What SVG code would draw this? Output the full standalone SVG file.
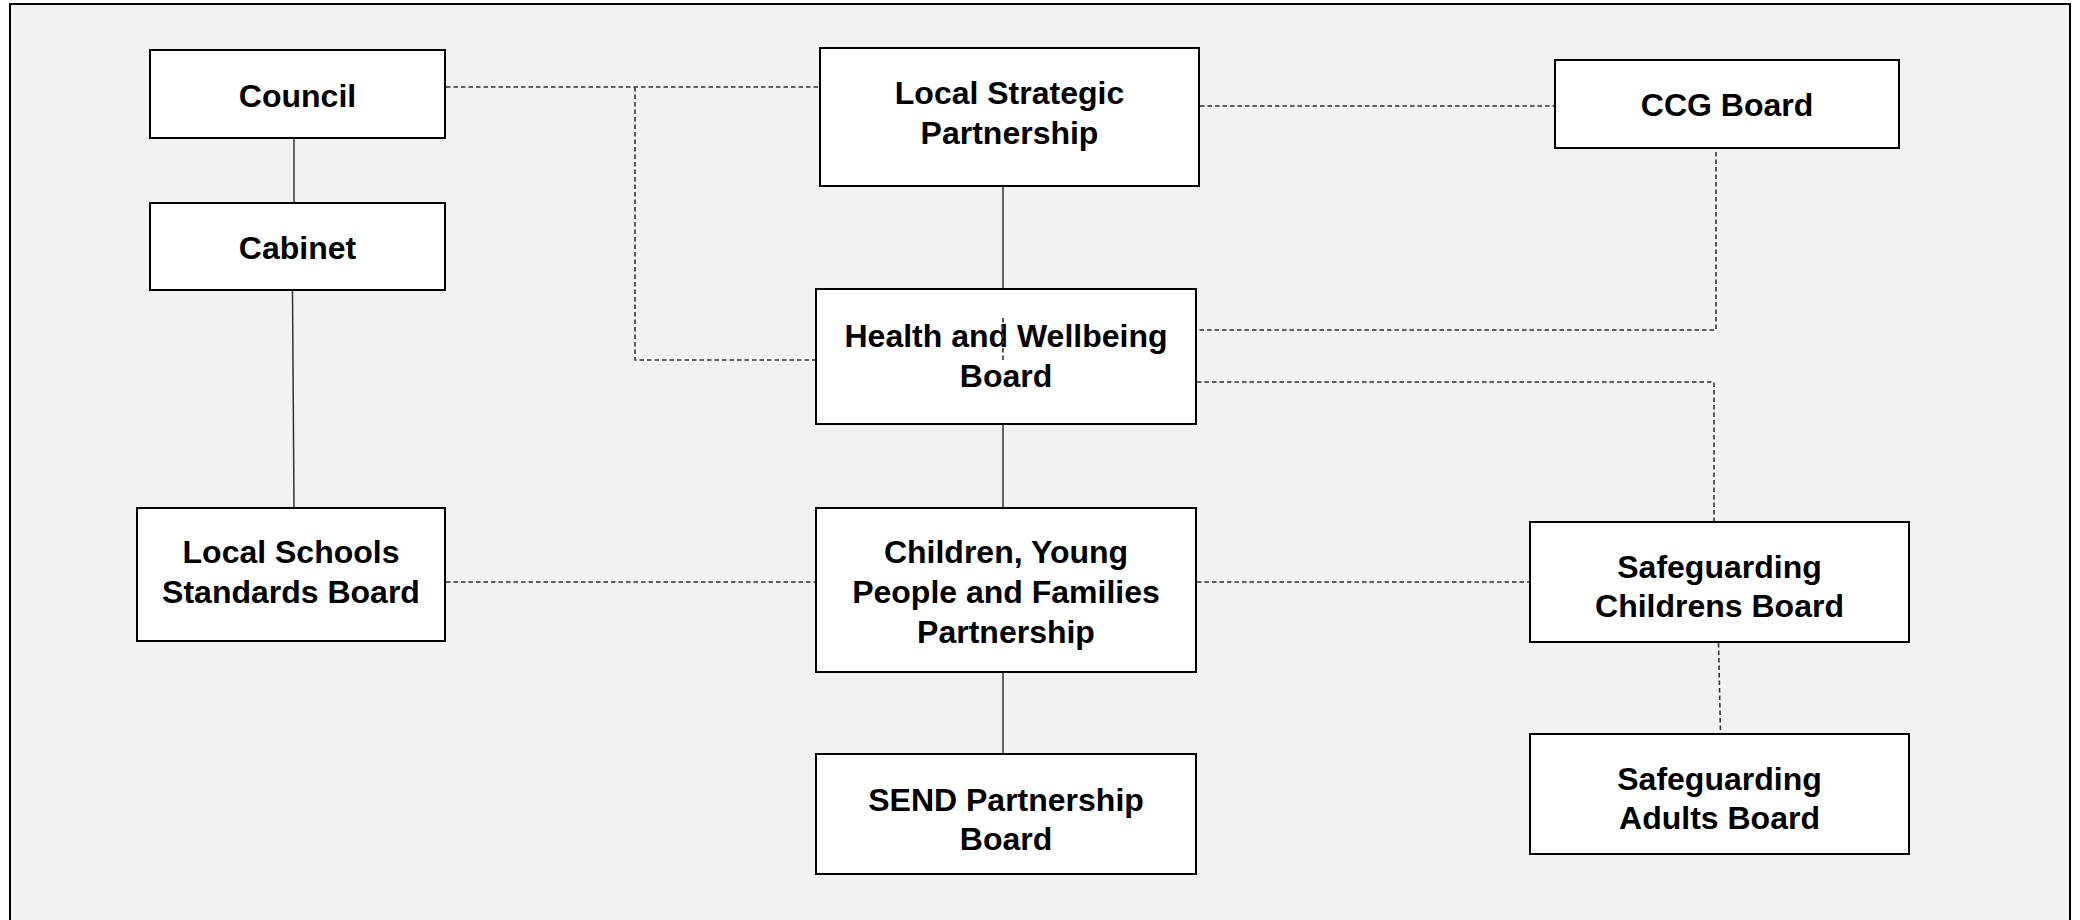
<svg xmlns="http://www.w3.org/2000/svg" width="2080" height="920" viewBox="0 0 2080 920">
<style>
.box{fill:#ffffff;stroke:#000000;stroke-width:2}
.t{font-family:"Liberation Sans",Arial,sans-serif;font-weight:bold;font-size:32px;fill:#000000;text-anchor:middle}
.solid{fill:none;stroke:#333333;stroke-width:1.5}
.dash{fill:none;stroke:#333333;stroke-width:1.6;stroke-dasharray:4.5 3}
</style>
<rect x="0" y="0" width="2080" height="920" fill="#ffffff"/>
<rect x="10" y="4" width="2060" height="930" fill="#f2f2f2" stroke="#000000" stroke-width="2"/>
<g id="council"><rect class="box" x="150" y="50" width="295" height="88"/><text class="t" x="297.5" y="107">Council</text></g>
<g id="cabinet"><rect class="box" x="150" y="203" width="295" height="87"/><text class="t" x="297.5" y="259">Cabinet</text></g>
<g id="lsp"><rect class="box" x="820" y="48" width="379" height="138"/><text class="t" x="1009.5" y="104">Local Strategic</text><text class="t" x="1009.5" y="144">Partnership</text></g>
<g id="ccg"><rect class="box" x="1555" y="60" width="344" height="88"/><text class="t" x="1727" y="116">CCG Board</text></g>
<g id="hwb"><rect class="box" x="816" y="289" width="380" height="135"/><text class="t" x="1006" y="347">Health and Wellbeing</text><text class="t" x="1006" y="387">Board</text></g>
<g id="lssb"><rect class="box" x="137" y="508" width="308" height="133"/><text class="t" x="291" y="563">Local Schools</text><text class="t" x="291" y="603">Standards Board</text></g>
<g id="cypf"><rect class="box" x="816" y="508" width="380" height="164"/><text class="t" x="1006" y="563">Children, Young</text><text class="t" x="1006" y="603">People and Families</text><text class="t" x="1006" y="643">Partnership</text></g>
<g id="send"><rect class="box" x="816" y="754" width="380" height="120"/><text class="t" x="1006" y="811">SEND Partnership</text><text class="t" x="1006" y="850">Board</text></g>
<g id="scb"><rect class="box" x="1530" y="522" width="379" height="120"/><text class="t" x="1719.5" y="578">Safeguarding</text><text class="t" x="1719.5" y="617">Childrens Board</text></g>
<g id="sab"><rect class="box" x="1530" y="734" width="379" height="120"/><text class="t" x="1719.5" y="790">Safeguarding</text><text class="t" x="1719.5" y="829">Adults Board</text></g>
<g id="connectors">
<line class="solid" x1="294" y1="139" x2="294" y2="202"/>
<line class="solid" x1="292.5" y1="291" x2="294" y2="507"/>
<line class="solid" x1="1003" y1="187" x2="1003" y2="288"/>
<line class="solid" x1="1003" y1="425" x2="1003" y2="507"/>
<line class="solid" x1="1003" y1="673" x2="1003" y2="753"/>
<polyline class="dash" points="446,87 819,87"/>
<polyline class="dash" points="635,87 635,360 815,360"/>
<polyline class="dash" points="1200,106 1554,106"/>
<polyline class="dash" points="1716,152 1716,330 1197,330"/>
<polyline class="dash" points="1197,382 1714,382 1714,521"/>
<polyline class="dash" points="446,582 815,582"/>
<polyline class="dash" points="1197,582 1529,582"/>
<line class="dash" x1="1718.5" y1="643" x2="1720.5" y2="733"/>
<line class="dash" x1="1003" y1="318" x2="1003" y2="362"/>
</g>
</svg>
